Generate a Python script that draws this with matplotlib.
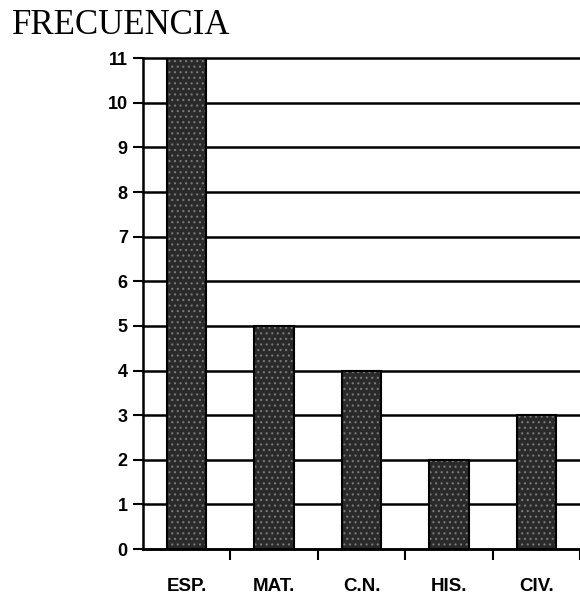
import matplotlib.pyplot as plt
import numpy as np

materias = ['ESP.', 'MAT.', 'C.N.', 'HIS.', 'CIV.']
frecuencia = [11, 5, 4, 2, 3]
y_ticks = list(range(0, 12))

plt.rcParams['hatch.linewidth'] = 0.8

fig = plt.figure(figsize=(5.8, 6), dpi=100)
ax = fig.add_axes([0.2466, 0.085, 0.7534, 0.818])

x = np.arange(len(materias))
ax.bar(x, frecuencia, width=0.45, color='#2a2a2a', edgecolor='#7a7a7a',
       linewidth=0, hatch='...', zorder=3)
ax.bar(x, frecuencia, width=0.45, fill=False, edgecolor='black',
       linewidth=1.5, zorder=4)

ax.set_xlim(-0.5, len(materias) - 0.5)
ax.set_ylim(0, 11)
ax.set_yticks(y_ticks)
ax.set_yticklabels([str(t) for t in y_ticks], fontsize=13, fontweight='bold',
                   family='Liberation Sans')
ax.yaxis.grid(True, color='black', linewidth=1.8, zorder=1)
for gl in ax.yaxis.get_gridlines():
    gl.set_clip_on(False)
ax.set_axisbelow(True)

# categorias: etiquetas centradas, marcas en los limites
ax.set_xticks(x)
ax.set_xticklabels(materias, fontsize=13.5, fontweight='bold', family='Liberation Sans')
ax.tick_params(axis='x', which='major', length=0, pad=21)
ax.set_xticks(np.arange(len(materias)) + 0.5, minor=True)
ax.tick_params(axis='x', which='minor', length=8, width=1.5, direction='out')
ax.tick_params(axis='y', length=7, width=1.5, direction='out', pad=4)

for s in ['top', 'right']:
    ax.spines[s].set_visible(False)
ax.spines['left'].set_linewidth(1.8)
ax.spines['bottom'].set_linewidth(1.8)

fig.text(0.02, 0.985, 'FRECUENCIA', fontsize=25, family='Liberation Serif',
         va='top', ha='left')

fig.savefig('out.png', dpi=100)
